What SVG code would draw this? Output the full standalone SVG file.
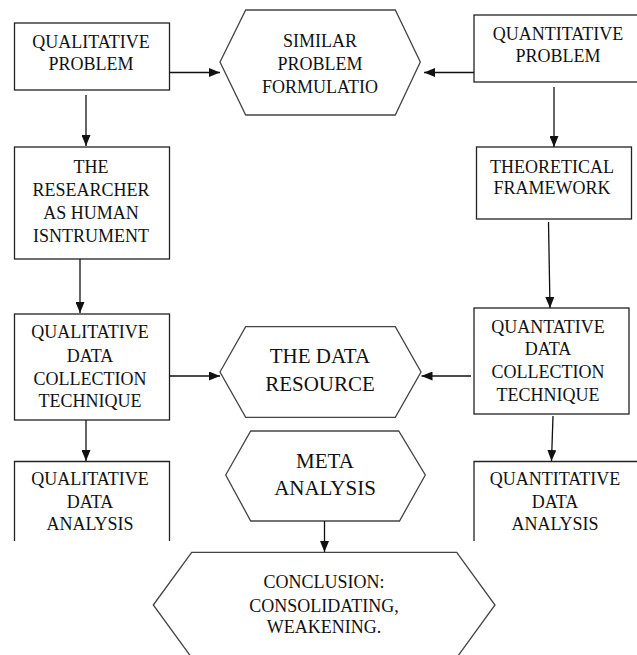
<svg xmlns="http://www.w3.org/2000/svg" width="637" height="655" viewBox="0 0 637 655">
<style>
.box{fill:#fff;stroke:#222;stroke-width:1.3}
.hex{fill:#fff;stroke:#444;stroke-width:1.3}
.t{font-family:"Liberation Serif","Times New Roman",serif;font-size:18px;fill:#111;text-anchor:middle}
.tb{font-family:"Liberation Serif","Times New Roman",serif;font-size:21px;fill:#111;text-anchor:middle}
.c{fill:none;stroke:#111;stroke-width:1.3}
</style>
<defs>
<marker id="ah" viewBox="0 0 11 9" refX="11" refY="4.5" markerWidth="11" markerHeight="9" orient="auto" markerUnits="userSpaceOnUse">
<path d="M0,0 L11,4.5 L0,9 Z" fill="#111"/>
</marker>
</defs>
<rect width="637" height="655" fill="#fff"/>
<g id="qual-problem">
<rect class="box" x="14.5" y="23" width="155" height="67"/>
<text class="t" x="91" y="48">QUALITATIVE</text>
<text class="t" x="91" y="70">PROBLEM</text>
</g>
<g id="similar">
<polygon class="hex" points="220,62 245.7,10 395.3,10 420.3,62 395.3,115 245.7,115"/>
<text class="t" x="320" y="47">SIMILAR</text>
<text class="t" x="320" y="70">PROBLEM</text>
<text class="t" x="320" y="93">FORMULATIO</text>
</g>
<g id="quant-problem">
<rect class="box" x="474" y="15" width="165" height="67"/>
<text class="t" x="558" y="40">QUANTITATIVE</text>
<text class="t" x="558" y="62">PROBLEM</text>
</g>
<g id="researcher">
<rect class="box" x="14.5" y="147" width="155" height="112"/>
<text class="t" x="91" y="173">THE</text>
<text class="t" x="91" y="196">RESEARCHER</text>
<text class="t" x="91" y="219">AS HUMAN</text>
<text class="t" x="91" y="242">ISNTRUMENT</text>
</g>
<g id="theoretical">
<rect class="box" x="476.5" y="147" width="155" height="72"/>
<text class="t" x="552" y="173">THEORETICAL</text>
<text class="t" x="552" y="194">FRAMEWORK</text>
</g>
<g id="qual-collection">
<rect class="box" x="14.5" y="314" width="155" height="106"/>
<text class="t" x="90" y="338">QUALITATIVE</text>
<text class="t" x="90" y="361.5">DATA</text>
<text class="t" x="90" y="385">COLLECTION</text>
<text class="t" x="90" y="407">TECHNIQUE</text>
</g>
<g id="data-resource">
<polygon class="hex" points="220,372 245.7,326.7 395.3,326.7 421,372 395.3,417.3 245.7,417.3"/>
<text class="tb" x="320" y="363">THE DATA</text>
<text class="tb" x="320" y="391">RESOURCE</text>
</g>
<g id="quant-collection">
<rect class="box" x="474" y="308" width="155" height="106"/>
<text class="t" x="548" y="333">QUANTATIVE</text>
<text class="t" x="548" y="355">DATA</text>
<text class="t" x="548" y="378">COLLECTION</text>
<text class="t" x="548" y="401">TECHNIQUE</text>
</g>
<g id="qual-analysis">
<path class="box" d="M14.5,541 V461.5 H169.5 V541"/>
<text class="t" x="90" y="485">QUALITATIVE</text>
<text class="t" x="90" y="508">DATA</text>
<text class="t" x="90" y="530">ANALYSIS</text>
</g>
<g id="meta">
<polygon class="hex" points="225.7,475 250.7,431 398.7,431 425.3,475 399.5,521 250.7,521"/>
<text class="tb" x="325" y="468">META</text>
<text class="tb" x="325" y="495">ANALYSIS</text>
</g>
<g id="quant-analysis">
<path class="box" d="M474,541 V461.5 H640"/>
<text class="t" x="555" y="485">QUANTITATIVE</text>
<text class="t" x="555" y="508">DATA</text>
<text class="t" x="555" y="530">ANALYSIS</text>
</g>
<g id="conclusion">
<polygon class="hex" points="153.3,605 191.7,552.3 456.7,552.3 495,605 456.7,657.7 191.7,657.7"/>
<text class="t" x="324" y="588">CONCLUSION:</text>
<text class="t" x="324" y="611.5">CONSOLIDATING,</text>
<text class="t" x="324" y="633">WEAKENING.</text>
</g>
<g id="connectors">
<line class="c" x1="169.5" y1="72.5" x2="220" y2="72.5" marker-end="url(#ah)"/>
<line class="c" x1="86" y1="95" x2="86" y2="146" marker-end="url(#ah)"/>
<line class="c" x1="80" y1="259" x2="80" y2="313" marker-end="url(#ah)"/>
<line class="c" x1="169.5" y1="376" x2="220" y2="376" marker-end="url(#ah)"/>
<line class="c" x1="86" y1="420" x2="86" y2="461" marker-end="url(#ah)"/>
<line class="c" x1="474" y1="72.5" x2="424" y2="72.5" marker-end="url(#ah)"/>
<line class="c" x1="554" y1="87" x2="554" y2="147" marker-end="url(#ah)"/>
<line class="c" x1="548.5" y1="222" x2="550" y2="308" marker-end="url(#ah)"/>
<line class="c" x1="471" y1="376" x2="421.5" y2="376" marker-end="url(#ah)"/>
<line class="c" x1="553" y1="416" x2="551.5" y2="461" marker-end="url(#ah)"/>
<line class="c" x1="324.5" y1="521" x2="324.5" y2="552" marker-end="url(#ah)"/>
</g>
</svg>
